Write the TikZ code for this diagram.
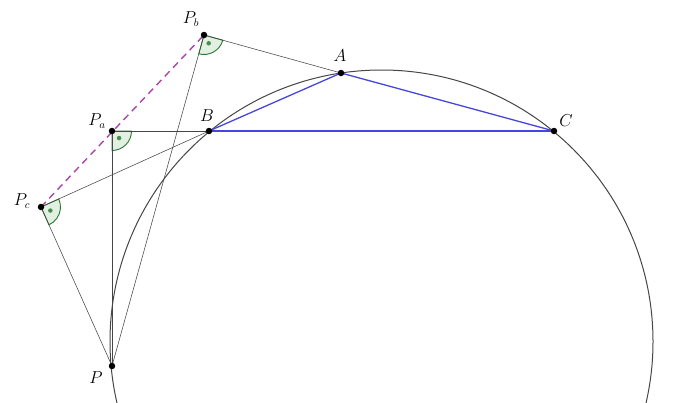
\documentclass[tikz,border=0pt]{standalone}
\usetikzlibrary{calc}
\definecolor{thinline}{RGB}{70,70,70}
\definecolor{triblue}{RGB}{70,70,220}
\definecolor{dashpurple}{RGB}{170,70,170}
\definecolor{markgreen}{RGB}{40,120,50}
\definecolor{markfill}{RGB}{225,240,225}
\tikzset{
  pt/.style={circle,fill=black,inner sep=0pt,minimum size=6.5pt},
  lbl/.style={font=\fontsize{16}{18}\selectfont},
  thin line/.style={draw=thinline,line width=0.55pt},
  tri/.style={draw=triblue,line width=1.3pt},
  simson/.style={draw=dashpurple,line width=1.4pt,dash pattern=on 7pt off 5pt},
  ramark/.style={draw=markgreen,fill=markfill,line width=0.9pt},
  radot/.style={circle,fill=markgreen!85!white,inner sep=0pt,minimum size=4.5pt}
}
\begin{document}
\begin{tikzpicture}[x=1pt,y=-1pt]
\useasboundingbox (0,0) rectangle (674,402);
\coordinate (Pb) at (204,35);
\coordinate (A) at (341,73);
\coordinate (B) at (209,131);
\coordinate (C) at (554,131);
\coordinate (Pa) at (112,131);
\coordinate (Pc) at (41,207);
\coordinate (P) at (112,366);
\coordinate (O) at (381.5,341.5);
% circle
\begin{scope}
\clip (0,0) rectangle (674,402);
\draw[draw=thinline,line width=1pt] (O) circle[radius=271.5];
\end{scope}
% right angle marks
\filldraw[ramark] (Pb) -- ++(105.5:19.5) arc[start angle=105.5,end angle=15.5,radius=19.5] -- cycle;
\filldraw[ramark] (Pa) -- ++(90:19.5) arc[start angle=90,end angle=0,radius=19.5] -- cycle;
\filldraw[ramark] (Pc) -- ++(65.9:19.5) arc[start angle=65.9,end angle=-24.3,radius=19.5] -- cycle;
\node[radot] (db) at ($(Pb)+(60.5:9.5)$) {};
\node[radot] (da) at ($(Pa)+(45:10)$) {};
\node[radot] (dc) at ($(Pc)+(20.8:10)$) {};
% thin lines
\draw[thin line] (Pb) -- (A);
\draw[thin line] (Pb) -- (P);
\draw[thin line] (Pa) -- (B);
\draw[thin line] (Pa) -- (P);
\draw[thin line] (Pc) -- (B);
\draw[thin line] (Pc) -- (P);
% simson line
\draw[simson] (Pc) -- (Pb);
% triangle
\draw[tri] (A) -- (B);
\draw[tri] (A) -- (C);
\draw[tri] (B) -- (C);
% points
\foreach \p in {Pb,A,B,C,Pa,Pc,P} \node[pt] (n\p) at (\p) {};
% labels
\node[lbl] (lA) at (340,56) {$A$};
\node[lbl] (lB) at (207,116) {$B$};
\node[lbl] (lC) at (566,121) {$C$};
\node[lbl] (lPa) at (97,121) {$P_a$};
\node[lbl] (lPb) at (191,19) {$P_b$};
\node[lbl] (lPc) at (22,201) {$P_c$};
\node[lbl] (lP) at (96,378) {$P$};
\end{tikzpicture}
\end{document}
